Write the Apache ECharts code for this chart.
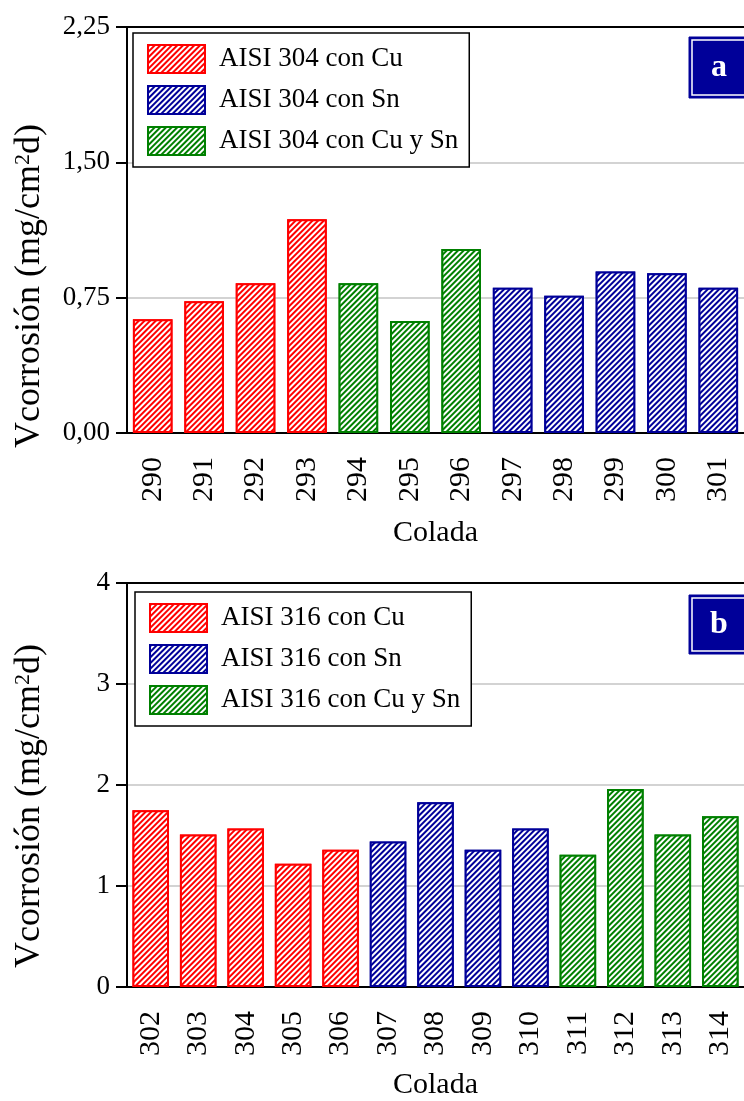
<!DOCTYPE html>
<html>
<head>
<meta charset="utf-8">
<script src="https://cdn.jsdelivr.net/npm/echarts@6/dist/echarts.min.js"></script>
<style>
html,body{margin:0;padding:0;background:#fff;}
#chart{width:744px;height:1101px;}
</style>
</head>
<body>
<div id="chart"></div>
<script>
// ---- Data ----
const coladasA = ['290','291','292','293','294','295','296','297','298','299','300','301'];
const cu304    = [0.63, 0.73, 0.83, 1.185, '-', '-', '-', '-', '-', '-', '-', '-'];
const cusn304  = ['-', '-', '-', '-', 0.83, 0.62, 1.02, '-', '-', '-', '-', '-'];
const sn304    = ['-', '-', '-', '-', '-', '-', '-', 0.805, 0.76, 0.895, 0.885, 0.805];
const yTicksA  = [0, 0.75, 1.50, 2.25];

const coladasB = ['302','303','304','305','306','307','308','309','310','311','312','313','314'];
const cu316    = [1.75, 1.51, 1.57, 1.22, 1.36, '-', '-', '-', '-', '-', '-', '-', '-'];
const sn316    = ['-', '-', '-', '-', '-', 1.44, 1.83, 1.36, 1.57, '-', '-', '-', '-'];
const cusn316  = ['-', '-', '-', '-', '-', '-', '-', '-', '-', 1.31, 1.96, 1.51, 1.69];
const yTicksB  = [0, 1, 2, 3, 4];

const namesA = ['AISI 304 con Cu', 'AISI 304 con Sn', 'AISI 304 con Cu y Sn'];
const namesB = ['AISI 316 con Cu', 'AISI 316 con Sn', 'AISI 316 con Cu y Sn'];
const panelLabels = ['a', 'b'];

// ---- Styles ----
const FONT = '"Liberation Serif", "Times New Roman", serif';
const RED = '#ff0000', BLUE = '#000099', GREEN = '#008000', NAVY = '#000099';

function hatch(color) {
  return {
    symbol: 'rect', symbolSize: 1, color: color, backgroundColor: '#ffffff',
    dashArrayX: [1, 0], dashArrayY: [1.5, 1.6], rotation: -Math.PI / 4
  };
}
function barSeries(name, data, color, idx) {
  return {
    type: 'bar', name: name, data: data,
    xAxisIndex: idx, yAxisIndex: idx,
    barWidth: '77%', barGap: '-100%',
    itemStyle: { color: '#ffffff', borderColor: color, borderWidth: 2, decal: hatch(color) }
  };
}
function xBottom(idx, cats, gap) {
  return {
    type: 'category', gridIndex: idx, data: cats, position: 'bottom',
    axisLine: { lineStyle: { color: '#000', width: 2 } },
    axisTick: { alignWithLabel: true, length: 4, lineStyle: { color: '#333', width: 1 } },
    axisLabel: { rotate: 90, margin: 24, color: '#000', fontSize: 30, fontFamily: FONT },
    name: 'Colada', nameLocation: 'middle', nameGap: gap,
    nameTextStyle: { color: '#000', fontSize: 30, fontFamily: FONT }
  };
}
function xTop(idx, cats) {
  return {
    type: 'category', gridIndex: idx, data: cats, position: 'top', z: 5,
    axisLine: { lineStyle: { color: '#000', width: 2 } },
    axisTick: { show: false }, axisLabel: { show: false }
  };
}
function yAx(idx, max, interval, fmt) {
  return {
    type: 'value', gridIndex: idx, min: 0, max: max, interval: interval,
    axisLine: { show: true, lineStyle: { color: '#000', width: 2 } },
    axisTick: { show: true, length: 11, lineStyle: { color: '#000', width: 2 } },
    axisLabel: { color: '#000', fontSize: 27, fontFamily: FONT, margin: 17, formatter: fmt },
    splitLine: { show: true, lineStyle: { color: '#c4c4c4', width: 1.5 } }
  };
}
function legend(idx, names, left, top) {
  return {
    data: names, orient: 'vertical', left: left, top: top,
    icon: 'rect', itemWidth: 57, itemHeight: 28, itemGap: 11,
    padding: [11, 11, 11, 14],
    borderColor: '#000', borderWidth: 1.5, backgroundColor: '#fff',
    textStyle: { color: '#000', fontSize: 27, fontFamily: FONT, padding: [0, 0, 0, 9] },
    selectedMode: false
  };
}
function yTitle(cx, cy) {
  return {
    type: 'text', x: cx, y: cy, rotation: Math.PI / 2,
    style: {
      text: '{t|Vcorrosión (mg/cm}{s|2}{t|d)}',
      rich: {
        t: { fontSize: 36, fontFamily: FONT, fill: '#000' },
        s: { fontSize: 22, fontFamily: FONT, fill: '#000', verticalAlign: 'top' }
      },
      align: 'center', verticalAlign: 'middle', fill: '#000'
    }
  };
}
function panelBox(x, y, h, label) {
  return {
    type: 'group', children: [
      { type: 'rect', shape: { x: x, y: y, width: 90, height: h }, style: { fill: NAVY, stroke: NAVY, lineWidth: 1 } },
      { type: 'rect', shape: { x: x + 3, y: y + 3, width: 90, height: h - 6 }, style: { fill: NAVY, stroke: '#fff', lineWidth: 1.5 } },
      { type: 'text', x: x + 30, y: y + h / 2,
        style: { text: label, fill: '#fff', fontSize: 32, fontWeight: 'bold', fontFamily: FONT, align: 'center', verticalAlign: 'middle' } }
    ]
  };
}

const fmtA = v => v.toFixed(2).replace('.', ',');
const fmtB = v => String(v);

const chart = echarts.init(document.getElementById('chart'), null, { renderer: 'canvas' });
chart.setOption({
  backgroundColor: '#fff',
  animation: false,
  grid: [
    { left: 127, top: 27, width: 628, height: 406 },
    { left: 127, top: 583, width: 628, height: 407 }
  ],
  xAxis: [xBottom(0, coladasA, 85), xBottom(1, coladasB, 83), xTop(0, coladasA), xTop(1, coladasB)],
  yAxis: [yAx(0, yTicksA[yTicksA.length - 1], 0.75, fmtA), yAx(1, yTicksB[yTicksB.length - 1], 1, fmtB)],
  legend: [legend(0, namesA, 133, 33), legend(1, namesB, 135, 592)],
  series: [
    barSeries(namesA[0], cu304, RED, 0),
    barSeries(namesA[1], sn304, BLUE, 0),
    barSeries(namesA[2], cusn304, GREEN, 0),
    barSeries(namesB[0], cu316, RED, 1),
    barSeries(namesB[1], sn316, BLUE, 1),
    barSeries(namesB[2], cusn316, GREEN, 1)
  ],
  graphic: [
    yTitle(30, 286),
    yTitle(30, 806),
    panelBox(689, 37, 61, panelLabels[0]),
    panelBox(689, 595, 59, panelLabels[1])
  ]
});
</script>
</body>
</html>
